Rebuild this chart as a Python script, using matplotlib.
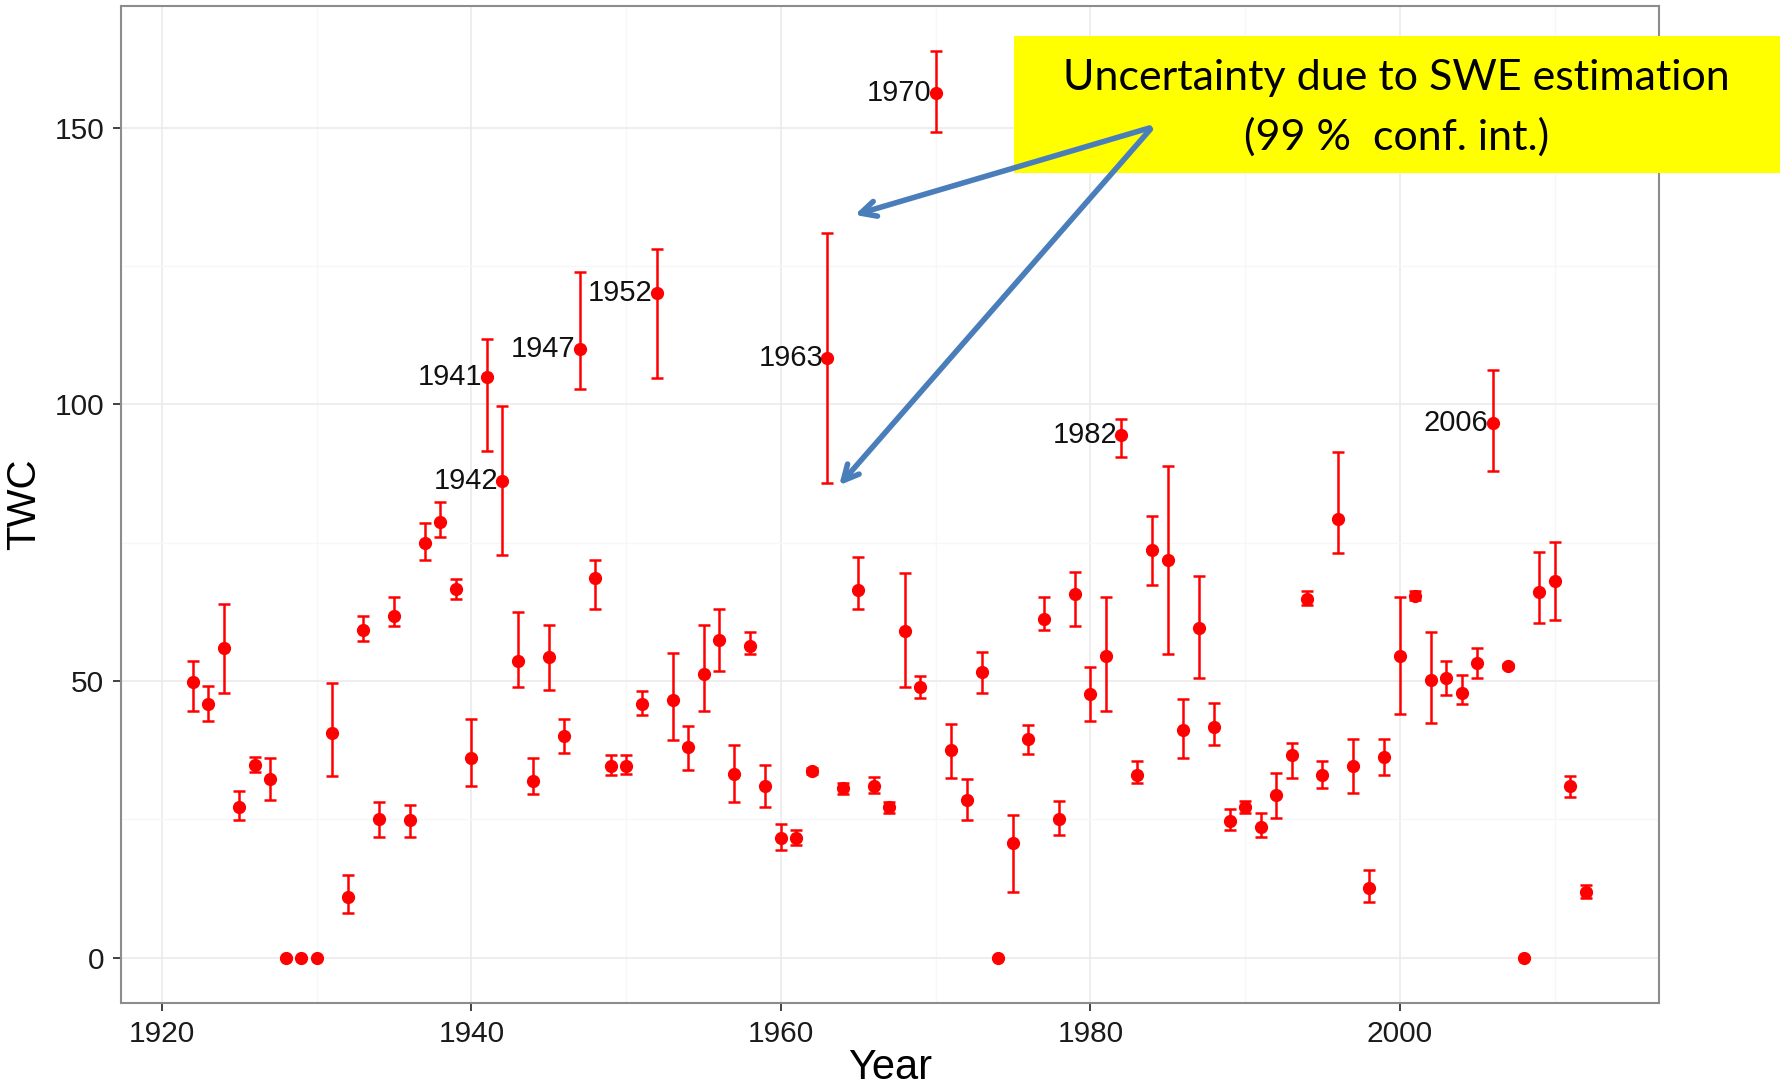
import matplotlib
matplotlib.use("Agg")
import matplotlib.pyplot as plt
from matplotlib.ticker import MultipleLocator

plt.rcParams["font.family"] = ["Liberation Sans", "DejaVu Sans"]

# TWC per year with the 99 % confidence bounds from SWE estimation
years = [1922, 1923, 1924, 1925, 1926, 1927, 1928, 1929, 1930, 1931,
         1932, 1933, 1934, 1935, 1936, 1937, 1938, 1939, 1940, 1941,
         1942, 1943, 1944, 1945, 1946, 1947, 1948, 1949, 1950, 1951,
         1952, 1953, 1954, 1955, 1956, 1957, 1958, 1959, 1960, 1961,
         1962, 1963, 1964, 1965, 1966, 1967, 1968, 1969, 1970, 1971,
         1972, 1973, 1974, 1975, 1976, 1977, 1978, 1979, 1980, 1981,
         1982, 1983, 1984, 1985, 1986, 1987, 1988, 1989, 1990, 1991,
         1992, 1993, 1994, 1995, 1996, 1997, 1998, 1999, 2000, 2001,
         2002, 2003, 2004, 2005, 2006, 2007, 2008, 2009, 2010, 2011,
         2012]
twc = [49.8, 45.9, 56.0, 27.3, 34.9, 32.3, 0, 0, 0, 40.6,
       10.9, 59.3, 25.0, 61.8, 24.8, 75.0, 78.8, 66.7, 36.0, 104.9,
       86.1, 53.7, 32.0, 54.4, 40.1, 110.0, 68.7, 34.6, 34.6, 45.8,
       120.2, 46.5, 38.0, 51.3, 57.5, 33.2, 56.3, 31.0, 21.7, 21.7,
       33.7, 108.4, 30.6, 66.5, 31.1, 27.2, 59.1, 48.9, 156.3, 37.5,
       28.5, 51.6, 0, 20.8, 39.5, 61.2, 25.1, 65.8, 47.7, 54.6,
       94.5, 33.1, 73.6, 71.8, 41.2, 59.6, 41.7, 24.7, 27.2, 23.7,
       29.4, 36.6, 64.9, 33.1, 79.2, 34.6, 12.6, 36.2, 54.6, 65.3,
       50.2, 50.5, 47.8, 53.2, 96.7, 52.7, 0, 66.1, 68.1, 31.0,
       11.9]
lower = [44.6, 42.7, 47.8, 24.8, 33.6, 28.5, 0, 0, 0, 32.9,
         8.1, 57.2, 21.8, 59.9, 21.8, 71.8, 76.1, 64.9, 31.1, 91.5,
         72.8, 48.9, 29.6, 48.4, 37.0, 102.8, 63.0, 33.0, 33.2, 43.9,
         104.8, 39.3, 34.0, 44.6, 51.8, 28.1, 54.8, 27.2, 19.5, 20.4,
         33.2, 85.7, 29.6, 63.0, 29.8, 26.1, 48.9, 46.9, 149.3, 32.5,
         24.8, 47.8, 0, 11.8, 36.8, 59.2, 22.2, 60.0, 42.8, 44.6,
         90.4, 31.6, 67.4, 54.8, 36.0, 50.5, 38.4, 23.0, 26.1, 21.8,
         25.3, 32.5, 63.8, 30.7, 73.1, 29.8, 10.1, 33.1, 44.0, 64.6,
         42.4, 47.4, 45.8, 50.6, 88.0, 52.4, 0, 60.4, 61.0, 29.1,
         10.8]
upper = [53.7, 49.1, 64.0, 30.1, 36.2, 36.0, 0, 0, 0, 49.6,
         14.9, 61.8, 28.2, 65.2, 27.6, 78.5, 82.3, 68.4, 43.2, 111.9,
         99.7, 62.5, 36.0, 60.1, 43.2, 124.0, 71.9, 36.7, 36.7, 48.2,
         128.1, 55.0, 41.9, 60.2, 63.0, 38.4, 58.8, 34.8, 24.1, 23.0,
         34.2, 130.9, 31.6, 72.4, 32.6, 28.2, 69.5, 50.9, 163.8, 42.3,
         32.3, 55.3, 0, 25.7, 42.1, 65.1, 28.3, 69.7, 52.6, 65.2,
         97.4, 35.5, 79.8, 88.8, 46.8, 68.9, 46.1, 26.8, 28.3, 26.1,
         33.3, 38.8, 66.2, 35.5, 91.4, 39.5, 15.8, 39.5, 65.2, 66.2,
         58.8, 53.7, 51.1, 56.0, 106.3, 53.0, 0, 73.4, 75.2, 32.9,
         13.2]
labelled_years = [1941, 1942, 1947, 1952, 1963, 1970, 1982, 2006]

fig = plt.figure(figsize=(17.81, 10.88), dpi=100)
ax = fig.add_axes([0.0679, 0.0781, 0.8636, 0.9164])

yerr = [[t - lo for t, lo in zip(twc, lower)], [hi - t for t, hi in zip(twc, upper)]]
ax.errorbar(years, twc, yerr=yerr, fmt="o", color="#ff0000", ecolor="#ff0000",
            markersize=8.5, elinewidth=1.8, capsize=4.5, capthick=1.8, zorder=3)

for yr in labelled_years:
    i = years.index(yr)
    ax.annotate(str(yr), xy=(yr, twc[i]), xytext=(-3, 0), textcoords="offset points",
                ha="right", va="center", fontsize=21, color="#111111", zorder=4)

ax.set_xlim(1917.35, 2016.75)
ax.set_ylim(-8.2, 172)
ax.xaxis.set_major_locator(MultipleLocator(20))
ax.xaxis.set_minor_locator(MultipleLocator(10))
ax.yaxis.set_major_locator(MultipleLocator(50))
ax.yaxis.set_minor_locator(MultipleLocator(25))
ax.grid(which="major", color="#ebebeb", linewidth=1.2, zorder=0)
ax.grid(which="minor", color="#f7f7f7", linewidth=1.0, zorder=0)
ax.set_axisbelow(True)
ax.tick_params(which="major", length=6, width=1.3, color="#333333", labelsize=21.5,
               labelcolor="#1a1a1a", pad=6)
ax.tick_params(which="minor", length=0)
for s in ax.spines.values():
    s.set_color("#8c8c8c")
    s.set_linewidth(1.5)

ax.set_xlabel("Year", fontsize=30, labelpad=0)
ax.set_ylabel("TWC", fontsize=29, labelpad=8)

# yellow call-out box with two arrows, drawn in the axes so the arrows sit on top
box = plt.Rectangle((0.5693, 0.841), 0.4307, 0.126, transform=fig.transFigure,
                    facecolor="#ffff00", edgecolor="none", zorder=5, clip_on=False)
ax.add_patch(box)
ax.text(0.784, 0.928, "Uncertainty due to SWE estimation", ha="center", va="center",
        fontsize=31, family=["Lato", "DejaVu Sans"], transform=fig.transFigure,
        zorder=6, clip_on=False)
ax.text(0.784, 0.874, "(99 %  conf. int.)", ha="center", va="center",
        fontsize=31, family=["Lato", "DejaVu Sans"], transform=fig.transFigure,
        zorder=6, clip_on=False)

arrow_style = dict(arrowstyle="->,head_length=1.1,head_width=0.55", color="#4a7ebb", lw=4)
ax.annotate("", xy=(1964.6, 134.1), xytext=(1984.0, 150.1), arrowprops=arrow_style,
            annotation_clip=False, zorder=7)
ax.annotate("", xy=(1963.65, 85.0), xytext=(1984.0, 150.1), arrowprops=arrow_style,
            annotation_clip=False, zorder=7)

fig.savefig("out.png", dpi=100)
